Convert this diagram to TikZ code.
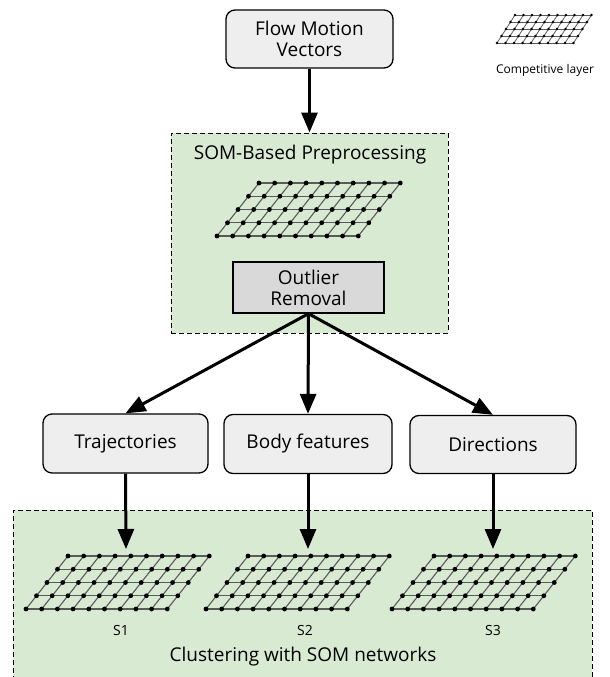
\documentclass[tikz,border=0pt]{standalone}
\usepackage{fontspec}
\setmainfont{Open Sans}
\usetikzlibrary{arrows.meta}
\definecolor{greenbg}{RGB}{217,234,211}
\definecolor{boxbg}{RGB}{238,238,238}
\definecolor{outbg}{RGB}{217,217,217}
\definecolor{gridgray}{RGB}{90,90,90}
\tikzset{
  procbox/.style={draw=black, line width=1.3pt, fill=boxbg, rounded corners=9pt,
    align=center, inner sep=0pt, font=\fontsize{19}{23}\selectfont},
  outbox/.style={draw=black, line width=1.3pt, fill=outbg, align=center,
    inner sep=0pt, font=\fontsize{19}{23}\selectfont},
  groupbox/.style={draw=black, line width=1pt, dash pattern=on 5pt off 3pt,
    fill=greenbg, inner sep=0pt},
  bigarrow/.style={line width=3pt, -{Triangle[length=20pt,width=16pt]}},
  labeltext/.style={font=\fontsize{19}{23}\selectfont},
  smalltext/.style={font=\fontsize{14}{16}\selectfont}
}
% #1 bx, #2 by, #3 dx, #4 dy, #5 shear per row, #6 dot radius, #7 line width
\newcommand{\somnet}[7]{%
  \foreach \j in {0,...,4}{%
    \draw[draw=gridgray, line width=#7] ({#1+#5*\j},{#2-#4*\j}) -- ({#1+9*#3+#5*\j},{#2-#4*\j});
  }
  \foreach \i in {0,...,9}{%
    \draw[draw=gridgray, line width=#7] ({#1+#3*\i},{#2}) -- ({#1+#3*\i+4*#5},{#2-4*#4});
  }
  \foreach \j in {0,...,4}{%
    \foreach \i in {0,...,9}{%
      \fill[black] ({#1+#3*\i+#5*\j},{#2-#4*\j}) circle (#6);
    }
  }
}
\begin{document}
\begin{tikzpicture}[x=1pt,y=-1pt]
\useasboundingbox (0,0) rectangle (610,677);
% group boxes
\node[groupbox, minimum width=277pt, minimum height=200pt] (pre) at (309.5,233) {};
\node[groupbox, minimum width=579pt, minimum height=180pt] (clu) at (302.5,600) {};
% boxes
\node[procbox, minimum width=167pt, minimum height=58pt] (flow) at (309.5,39) {Flow Motion\\[-2pt]Vectors};
\node[outbox, minimum width=151pt, minimum height=51pt] (out) at (308.5,287.5) {Outlier\\[-2pt]Removal};
\node[procbox, minimum width=165pt, minimum height=59pt] (traj) at (125.5,443.5) {Trajectories};
\node[procbox, minimum width=168pt, minimum height=59pt] (body) at (308,444) {Body features};
\node[procbox, minimum width=166pt, minimum height=58pt] (dir) at (493,444.5) {Directions};
% texts
\node[labeltext] (pretitle) at (310,155) {SOM-Based Preprocessing};
\node[labeltext] (clutitle) at (303,657) {Clustering with SOM networks};
\node[font=\fontsize{12}{14}\selectfont] (comp) at (545,70) {Competitive layer};
\node[smalltext] (s1) at (121,630) {S1};
\node[smalltext] (s2) at (305,630) {S2};
\node[smalltext] (s3) at (493,630) {S3};
% grids
\somnet{217}{236}{15.7}{13.25}{10.5}{2.4pt}{1.1pt}
\somnet{26}{609}{15.7}{13.25}{10.5}{2.4pt}{1.1pt}
\somnet{206}{609}{15.7}{13.25}{10.5}{2.4pt}{1.1pt}
\somnet{392}{609}{15.7}{13.25}{10.5}{2.4pt}{1.1pt}
\somnet{497}{43}{8.5}{7}{4.5}{1.3pt}{0.8pt}
% arrow end points
\coordinate (t1) at (126,549);
\coordinate (t2) at (308,549);
\coordinate (t3) at (493,549);
% arrows
\draw[bigarrow] (flow.south) -- (pre.north);
\draw[bigarrow] (out.south) -- (traj.north);
\draw[bigarrow] (out.south) -- (body.north);
\draw[bigarrow] (out.south) -- (dir.north);
\draw[bigarrow] (traj.south) -- (t1);
\draw[bigarrow] (body.south) -- (t2);
\draw[bigarrow] (dir.south) -- (t3);
\end{tikzpicture}
\end{document}
